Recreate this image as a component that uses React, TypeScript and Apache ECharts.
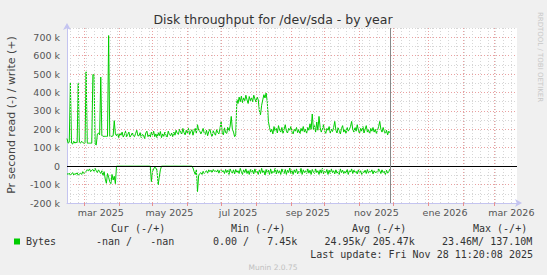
import React, { useEffect, useRef } from 'react';
import * as echarts from 'echarts';

const DAY = 86400000;
const START = Date.UTC(2025, 1, 14);
const END = Date.UTC(2026, 2, 21);
const NOW = Date.UTC(2025, 10, 28, 11, 20, 8);

// Daily write rate (k bytes/s), from 2025-02-14
const writeK = [
  150,125,130,452,125,120,135,125,130,128,
  449,130,125,135,128,125,125,512,125,125,
  125,125,125,497,495,120,115,175,180,170,
  484,165,162,162,162,162,162,709,162,162,
  162,165,247,175,
  165,180,155,178,168,185,158,170,190,160,
  172,185,158,168,180,165,160,178,195,165,
  165,182,155,172,168,150,180,190,160,170,
  158,185,168,190,160,175,155,182,165,188,
  155,175,162,185,168,158,190,172,165,180,
  160,185,168,195,178,172,200,185,175,205,
  182,170,195,178,205,172,188,198,168,192,
  205,178,225,195,
  190,175,188,205,178,172,195,165,188,200,
  175,160,192,178,168,198,182,175,205,243,
  182,170,208,182,178,212,190,218,270,200,
  185,160,170,
  361,340,375,350,380,345,370,355,385,360,
  340,378,355,372,350,385,365,348,375,360,
  300,279,330,360,388,370,397,350,
  243,
  210,185,200,175,215,190,205,180,220,195,185,210,178,200,225,190,180,205,195,215,
  185,175,200,190,210,182,198,175,205,190,215,185,200,178,210,195,230,200,
  283,
  200,220,185,240,195,
  270,
  210,185,200,225,190,178,205,195,215,180,200,188,210,
  243,
  195,180,210,190,175,205,220,185,198,178,210,190,200,215,
  243,
  200,185,210,190,225,195,178,205,190,215,180,200,220,185,198,175,205,190,210,185,200,178,195,215,
  243,
  200,185,210,190,175,195,170,190,181,
];

// Daily read rate (k bytes/s, drawn negative), from 2025-02-14
const readK = [
  -40,-45,-38,-50,-42,-35,-48,-40,-44,-36,-50,-42,-38,-45,-30,-40,-35,-28,
  -20,-25,-15,-30,-22,-18,-28,-12,-25,-35,-20,-30,-40,-25,
  -50,-30,-70,-93,-40,-60,-85,-95,-45,-75,-55,-95,
  0,0,0,0,0,0,0,0,0,0,0,0,0,0,0,0,0,0,0,0,0,0,0,0,0,0,0,0,0,0,0,
  -84,
  -30,-15,-5,-10,-25,
  -102,-60,-20,
  0,0,0,0,0,0,0,0,0,0,0,0,0,0,0,0,0,0,0,0,0,0,0,0,0,0,0,0,
  -10,-30,-45,-20,-138,-50,-40,
  -35,-45,-28,-40,-30,-25,-38,-20,-30,-22,-35,-18,-28,-25,-32,-20,-38,-22,-15,-30,
  -25,-40,-18,-35,-22,-45,-15,-30,-38,-20,-42,-18,-35,-25,-40,-12,-30,-45,-20,-35,
  -15,-40,-25,-45,-18,-38,-22,-42,-15,-35,-28,-45,-20,-40,-12,-35,-25,-48,-18,-38,
  -22,-45,-15,-40,-28,-35,-12,-42,-20,-38,-25,-45,-15,-32,-40,-18,-45,-22,-35,-10,
  -40,-25,-45,-20,-35,-15,-42,-28,-38,-12,-45,-20,-35,-25,-40,-15,-38,-22,-45,-18,
  -32,-40,-15,-35,-25,-45,-20,-38,-12,-42,-28,-35,-18,-45,-22,-40,-15,-35,-25,-42,
  -20,-38,-30,-45,-15,-35,-22,-40,-28,-38,-18,-45,-25,-32,-15,-40,-22,-35,-28,-42,
  -20,-38,-25,-45,-30,-35,-22,-40,-18,-38,-28,-32,-20,-42,-25,-35,-30,-38,-15,
  -25,-40,-20,-35,-28,-45,-22,-38,-30,-15,
];

const xLabelDates = ['2025-03-16','2025-05-16','2025-07-16','2025-09-16','2025-11-16','2026-01-16','2026-03-16'];
const xLabelTexts = ['mar 2025','may 2025','jul 2025','sep 2025','nov 2025','ene 2026','mar 2026'];
const monthStarts = ['2025-03-01','2025-04-01','2025-05-01','2025-06-01','2025-07-01','2025-08-01','2025-09-01','2025-10-01','2025-11-01','2025-12-01','2026-01-01','2026-02-01','2026-03-01'];
const firstMonday = '2025-02-17';

const legendHeaders = ['Cur (-/+)', 'Min (-/+)', 'Avg (-/+)', 'Max (-/+)'];
const legendName = 'Bytes';
const legendValues = ['-nan /   -nan', '0.00 /   7.45k', '24.95k/ 205.47k', '23.46M/ 137.10M'];
const lastUpdate = 'Last update: Fri Nov 28 11:20:08 2025';

const toMs = (s: string) => {
  const [y, m, d] = s.split('-').map(Number);
  return Date.UTC(y, m - 1, d);
};

export default function App() {
  const ref = useRef<HTMLDivElement>(null);
  useEffect(() => {
    if (!ref.current) return;
    const chart = echarts.init(ref.current, null, { renderer: 'svg' });
    const labelMs = xLabelDates.map(toMs);
    const monthMs = monthStarts.map(toMs);
    const weeks: number[] = [];
    for (let t = toMs(firstMonday); t < END; t += 7 * DAY) weeks.push(t);

    const mono = 'DejaVu Sans Mono';
    const sans = 'DejaVu Sans';
    const hx = [111, 231, 352, 473];
    const vx = [96, 213, 324.5, 442];

    const baseGraphic: any[] = [
      { type: 'text', x: 273, y: 19, style: { text: 'Disk throughput for /dev/sda - by year', fontSize: 12.5, fontFamily: sans, fill: '#333', align: 'center', verticalAlign: 'middle' } },
      { type: 'text', x: 11, y: 115, rotation: Math.PI / 2, style: { text: 'Pr second read (-) / write (+)', fontSize: 11, fontFamily: sans, fill: '#444', align: 'center', verticalAlign: 'middle' } },
      { type: 'text', x: 540, y: 57, rotation: -Math.PI / 2, style: { text: 'RRDTOOL / TOBI OETIKER', fontSize: 7, fontFamily: sans, fill: '#c8c8c8', align: 'center', verticalAlign: 'middle' } },
      ...legendHeaders.map((t, i) => ({ type: 'text', x: hx[i], y: 228.5, style: { text: t, fontSize: 10, fontFamily: mono, fill: '#333', align: 'left', verticalAlign: 'middle' } })),
      { type: 'rect', shape: { x: 14, y: 238.5, width: 6, height: 6 }, style: { fill: '#00cc00' } },
      { type: 'text', x: 26, y: 241.5, style: { text: legendName, fontSize: 10, fontFamily: mono, fill: '#333', align: 'left', verticalAlign: 'middle' } },
      ...legendValues.map((t, i) => ({ type: 'text', x: vx[i], y: 241.5, style: { text: t, fontSize: 10, fontFamily: mono, fill: '#333', align: 'left', verticalAlign: 'middle' } })),
      { type: 'text', x: 533, y: 254, style: { text: lastUpdate, fontSize: 10, fontFamily: mono, fill: '#333', align: 'right', verticalAlign: 'middle' } },
      { type: 'text', x: 273, y: 267, style: { text: 'Munin 2.0.75', fontSize: 7.5, fontFamily: sans, fill: '#c0c0c0', align: 'center', verticalAlign: 'middle' } },
    ];

    chart.setOption({
      animation: false,
      backgroundColor: '#F0F0F0',
      grid: { left: 67, right: 30, top: 28, bottom: 72, show: true, backgroundColor: '#FFFFFF', borderWidth: 0 },
      xAxis: {
        type: 'value', min: START, max: END,
        axisLine: { show: true, onZero: false, lineStyle: { color: '#c4c4f0', width: 1 }, symbol: ['none', 'arrow'], symbolSize: [6, 7], symbolOffset: [0, 5] },
        axisTick: { show: true, customValues: monthMs, length: 3, lineStyle: { color: '#e89090' } },
        axisLabel: { show: false },
        splitLine: { show: false },
      },
      yAxis: {
        type: 'value', min: -200000, max: 750000, interval: 50000,
        axisLine: { show: true, onZero: false, lineStyle: { color: '#c4c4f0', width: 1 }, symbol: ['none', 'arrow'], symbolSize: [6, 7], symbolOffset: [0, 5] },
        axisTick: { show: false },
        axisLabel: {
          formatter: (v: number) => (v % 100000 === 0 ? (v === 0 ? '0' : `${v / 1000} k`) : ''),
          fontSize: 9.5, color: '#555', margin: 7, fontFamily: sans,
        },
        splitLine: { show: true, lineStyle: { color: ['#eaa0a0', '#d6d6d6'], type: [1, 2], width: 1 } },
      },
      series: [
        {
          type: 'line', data: [], z: 1, silent: true,
          markLine: {
            silent: true, symbol: ['none', 'none'], label: { show: false }, animation: false,
            data: [
              ...weeks.map((w) => ({ xAxis: w, lineStyle: { color: '#d6d6d6', type: [1, 2], width: 1 } })),
              ...monthMs.map((m) => ({ xAxis: m, lineStyle: { color: '#eaa0a0', type: [1, 2], width: 1 } })),
            ],
          },
        },
        {
          type: 'line', name: 'write', z: 3, showSymbol: false, symbol: 'none',
          data: writeK.map((v, i) => [START + i * DAY, v * 1000]),
          lineStyle: { color: '#00cc00', width: 1 },
        },
        {
          type: 'line', name: 'read', z: 3, showSymbol: false, symbol: 'none',
          data: readK.map((v, i) => [START + i * DAY, v * 1000]),
          lineStyle: { color: '#00cc00', width: 1 },
        },
        {
          type: 'line', data: [], z: 5, silent: true,
          markLine: {
            silent: true, symbol: ['none', 'none'], label: { show: false }, animation: false,
            data: [
              { yAxis: 0, lineStyle: { color: '#000', type: 'solid', width: 1 } },
              { xAxis: NOW, lineStyle: { color: '#888', type: 'solid', width: 1 } },
            ],
          },
        },
      ],
      graphic: baseGraphic,
    });

    const bottomY = chart.convertToPixel({ yAxisIndex: 0 }, -200000) as number;
    const labelGraphic = labelMs.map((v, i) => ({
      type: 'text',
      x: chart.convertToPixel({ xAxisIndex: 0 }, v) as number,
      y: bottomY + 9,
      style: { text: xLabelTexts[i], fontSize: 9.5, fontFamily: sans, fill: '#555', align: 'center', verticalAlign: 'middle' },
    }));
    chart.setOption({ graphic: [...baseGraphic, ...labelGraphic] }, { replaceMerge: ['graphic'] });

    return () => chart.dispose();
  }, []);
  return <div ref={ref} style={{ position: 'absolute', left: 0, top: 0, width: 547, height: 275 }} />;
}
